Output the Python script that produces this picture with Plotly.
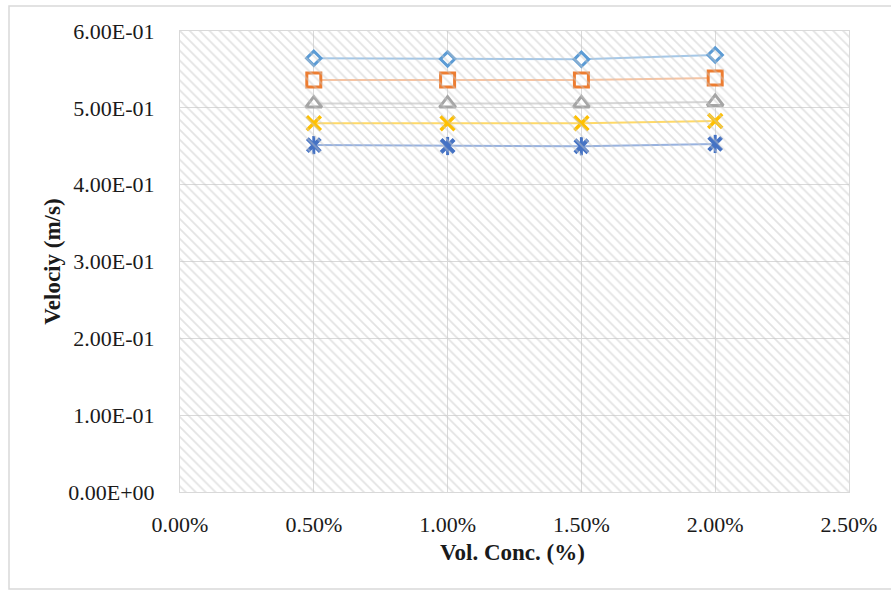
import plotly.graph_objects as go

# ---- data ----
vol_conc = [0.5, 1.0, 1.5, 2.0]  # %
series_diamond = [0.5645, 0.5636, 0.5631, 0.5688]
series_square = [0.5363, 0.5363, 0.5363, 0.5388]
series_triangle = [0.5055, 0.5055, 0.5057, 0.5077]
series_x = [0.4800, 0.4800, 0.4800, 0.4830]
series_star = [0.4515, 0.4503, 0.4500, 0.4530]

x_tickvals = [0.0, 0.5, 1.0, 1.5, 2.0, 2.5]
x_ticktext = ["0.00%", "0.50%", "1.00%", "1.50%", "2.00%", "2.50%"]
y_tickvals = [0.0, 0.1, 0.2, 0.3, 0.4, 0.5, 0.6]
y_ticktext = ["0.00E+00", "1.00E-01", "2.00E-01", "3.00E-01", "4.00E-01", "5.00E-01", "6.00E-01"]

FONT = "Liberation Serif"
TXT = "#1a1a1a"
GRID = "#d9d9d9"

fig = go.Figure()

# hatched plot-area background on hidden overlay axes
fig.add_trace(go.Scatter(
    x=[0, 1, 1, 0, 0], y=[0, 0, 1, 1, 0], xaxis="x2", yaxis="y2",
    mode="lines", line=dict(width=0), fill="toself",
    fillcolor="rgba(0,0,0,0)",
    fillpattern=dict(shape="\\", fgcolor="#c8c8c8", bgcolor="rgba(0,0,0,0)", size=7, solidity=0.25),
    hoverinfo="skip", showlegend=False,
))

def add_series(y, marker_sym, mcol, lcol, msize, mwidth, fill="white"):
    fig.add_trace(go.Scatter(
        x=vol_conc, y=y, mode="lines+markers",
        line=dict(color=lcol, width=2),
        marker=dict(symbol=marker_sym, size=msize, color=fill,
                    line=dict(color=mcol, width=mwidth)),
        showlegend=False,
    ))

add_series(series_diamond, "diamond", "#5B9BD5", "rgba(91,155,213,0.55)", 11, 3)
add_series(series_square, "square", "#ED7D31", "rgba(237,125,49,0.45)", 14, 3)
add_series(series_triangle, "triangle-up", "#A5A5A5", "rgba(165,165,165,0.45)", 14, 3)
fig.add_trace(go.Scatter(
    x=vol_conc, y=series_x, mode="lines+markers",
    line=dict(color="rgba(255,192,0,0.6)", width=2),
    marker=dict(symbol="x-thin-open", size=14, color="#FFC000", line=dict(color="#FFC000", width=3.5)),
    showlegend=False,
))
fig.add_trace(go.Scatter(
    x=vol_conc, y=series_star, mode="lines+markers",
    line=dict(color="rgba(68,114,196,0.55)", width=2),
    marker=dict(symbol="x-thin-open", size=13, color="#4472C4", line=dict(color="#4472C4", width=4)),
    showlegend=False,
))
fig.add_trace(go.Scatter(
    x=vol_conc, y=series_star, mode="markers",
    marker=dict(symbol="line-ns-open", size=13, color="#4472C4", line=dict(color="#4472C4", width=3)),
    showlegend=False,
))

fig.update_layout(
    width=891, height=591,
    margin=dict(l=180, r=42, t=31, b=99),
    paper_bgcolor="white", plot_bgcolor="white",
    font=dict(family=FONT, size=22, color=TXT),
    xaxis=dict(range=[0, 2.5], tickvals=x_tickvals, ticktext=x_ticktext,
               showgrid=True, gridcolor=GRID, gridwidth=1,
               showline=True, linecolor=GRID, mirror=True, zeroline=False,
               ticks="", ticklabelstandoff=13, tickfont=dict(family=FONT, size=22, color=TXT)),
    yaxis=dict(range=[0, 0.6], tickvals=y_tickvals, ticktext=y_ticktext,
               showgrid=True, gridcolor=GRID, gridwidth=1,
               showline=True, linecolor=GRID, mirror=True, zeroline=False,
               ticks="", ticklabelstandoff=20, tickfont=dict(family=FONT, size=22, color=TXT)),
    xaxis2=dict(range=[0, 1], overlaying="x", visible=False, showgrid=False),
    yaxis2=dict(range=[0, 1], overlaying="y", visible=False, showgrid=False),
    annotations=[
        dict(text="<b>Vol. Conc. (%)</b>", xref="paper", yref="paper", x=0.497, y=-0.132,
             showarrow=False, font=dict(family=FONT, size=23, color=TXT), xanchor="center", yanchor="middle"),
        dict(text="<b>Velociy (m/s)</b>", xref="paper", yref="paper", x=-0.191, y=0.5,
             showarrow=False, textangle=-90, font=dict(family=FONT, size=23, color=TXT),
             xanchor="center", yanchor="middle"),
    ],
    shapes=[
        dict(type="rect", xref="paper", yref="paper", x0=-0.2556, x1=1.07, y0=-0.2104, y1=1.054,
             line=dict(color="#d9d9d9", width=1.5), layer="below"),
    ],
)

fig.write_html("out.html")
